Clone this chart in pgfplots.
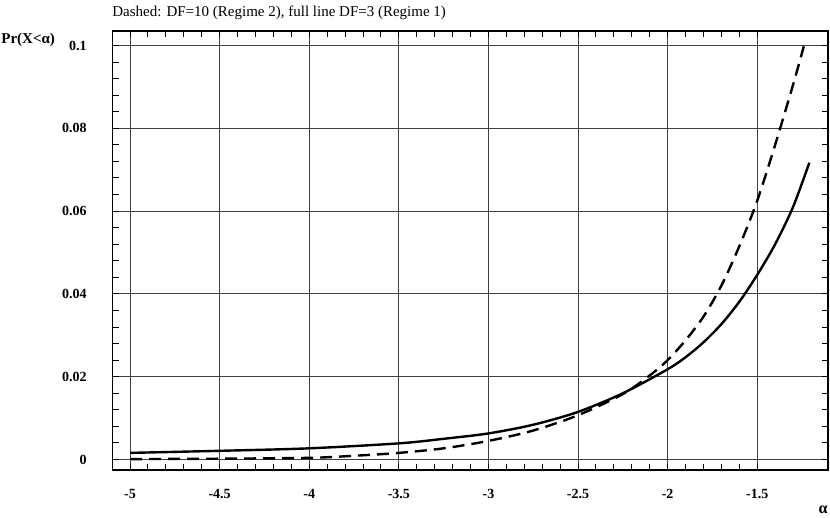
\documentclass[border=0pt]{standalone}
\usepackage{fontspec}
\setmainfont{Liberation Serif}
\usepackage{pgfplots}
\pgfplotsset{compat=1.18}

\begin{document}
\begin{tikzpicture}
\useasboundingbox (0,0) rectangle (415pt,259pt);
\begin{axis}[
    at={(56.25pt,24.15pt)}, anchor=south west, scale only axis,
    width=357.75pt, height=219.35pt,
    xmin=-5.098, xmax=-1.105, ymin=-0.00246, ymax=0.1035,
    xtick={-5,-4.5,-4,-3.5,-3,-2.5,-2,-1.5},
    ytick={0,0.02,0.04,0.06,0.08,0.1},
    xticklabels={-5,-4.5,-4,-3.5,-3,-2.5,-2,-1.5},
    yticklabels={0,0.02,0.04,0.06,0.08,{0.1\hspace{5pt}}},
    scaled y ticks=false,
    minor x tick num=4, minor y tick num=4,
    grid=major, major grid style={black!75, line width=0.5pt},
    axis line style={line width=0.9pt},
    tick align=inside, tick style={black, line width=0.5pt},
    major tick length=3pt, minor tick length=3pt,
    xticklabel style={anchor=center, yshift=-12.15pt, font=\bfseries\fontsize{7}{8}\selectfont},
    yticklabel style={anchor=east, inner sep=0pt, xshift=-12.75pt, font=\bfseries\fontsize{7}{8}\selectfont},
  ]
  % DF=3 (Regime 1), full line
  \addplot[black, line width=1.2pt, smooth] coordinates {
    (-5.0,0.0016) (-4.5,0.0021) (-4.0,0.0027) (-3.5,0.0039) (-3.25,0.0050)
    (-3.0,0.0063) (-2.75,0.0084) (-2.5,0.0115) (-2.25,0.0160) (-2.0,0.0218)
    (-1.9,0.0247) (-1.8,0.0283) (-1.7,0.0327) (-1.6,0.0381) (-1.5,0.0446)
    (-1.4,0.0520) (-1.3,0.0610) (-1.209,0.0717)};
  % DF=10 (Regime 2), dashed
  \addplot[black, line width=1.2pt, smooth, dash pattern=on 6pt off 3.5pt] coordinates {
    (-5.0,0.0001) (-4.5,0.0002) (-4.0,0.0004) (-3.75,0.0009) (-3.5,0.0016)
    (-3.25,0.0027) (-3.0,0.0045) (-2.75,0.0070) (-2.5,0.0107) (-2.25,0.0158)
    (-2.1,0.0203) (-2.0,0.0240) (-1.9,0.0288) (-1.8,0.0345) (-1.7,0.0420)
    (-1.6,0.0515) (-1.5,0.0625) (-1.4,0.0760) (-1.3,0.0905) (-1.24,0.0998)};
\end{axis}
\node[anchor=west, inner sep=0pt] at (56pt,252.5pt)
  {\fontsize{7.5}{9}\selectfont Dashed: DF=10 (Regime 2), full line DF=3 (Regime 1)};
\node[anchor=west, inner sep=0pt] at (0.5pt,239pt)
  {\bfseries\fontsize{7.5}{9}\selectfont Pr(X<α)};
\node[inner sep=0pt] at (411.5pt,4pt) {\bfseries\fontsize{8}{9}\selectfont α};
\end{tikzpicture}
\end{document}
